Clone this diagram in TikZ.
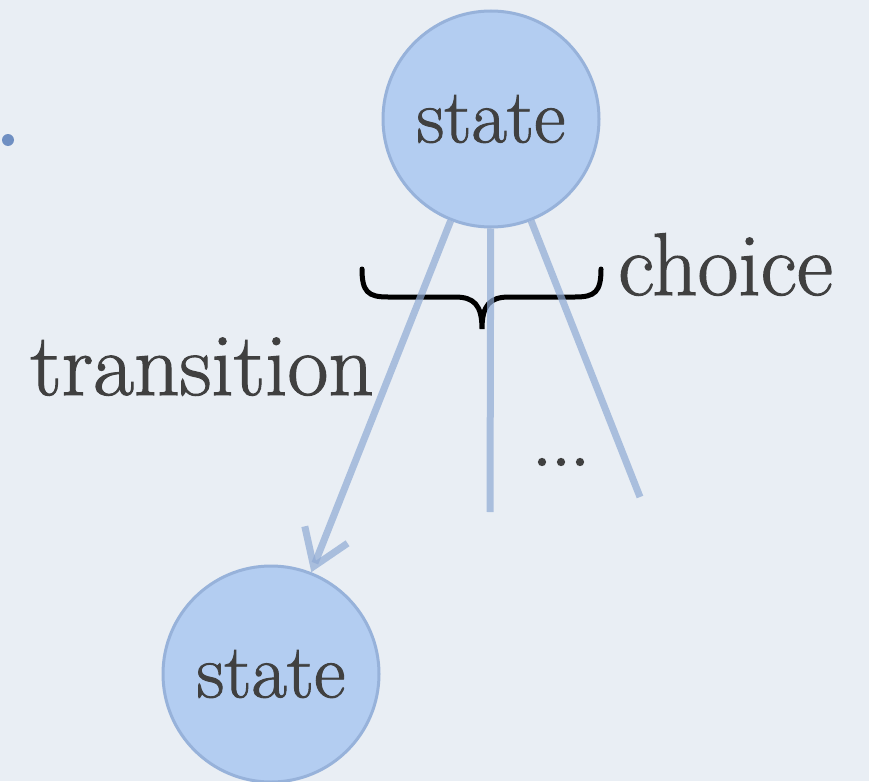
\documentclass[tikz,border=0pt]{standalone}
\usepackage{fontspec}
\usepackage{tikz}
\usetikzlibrary{automata, arrows.meta, positioning}

\newfontfamily\heavyserif{Latin Modern Roman}[FakeBold=1.2]
\newfontfamily\dotserif{Latin Modern Roman}[FakeBold=2.5]

\definecolor{paper}{HTML}{E9EEF4}
\definecolor{statefill}{HTML}{B3CDF1}
\definecolor{statedraw}{HTML}{97B2DA}
\definecolor{edgeblue}{HTML}{8FAAD4}
\definecolor{ink}{HTML}{404040}
\definecolor{dotblue}{HTML}{6F8FC2}

\begin{document}
\begin{tikzpicture}[x=1pt,y=-1pt,
    >={Straight Barb[length=34pt,width=46pt]},
    every state/.style={fill=statefill, draw=statedraw, line width=3pt,
      minimum size=216pt, inner sep=0pt, text=ink,
      font=\heavyserif\fontsize{77}{80}\selectfont},
    edge/.style={draw=edgeblue, draw opacity=0.7, line width=7pt},
    lbl/.style={text=ink, inner sep=0pt, font=\heavyserif\fontsize{89}{94}\selectfont}]

  \fill[paper] (0,0) rectangle (869,781);
  \useasboundingbox (0,0) rectangle (869,781);

  \node[circle, fill=dotblue, inner sep=0pt, minimum size=12pt] (bullet) at (8,140) {};

  \node[state] (s) at (491,119) {state};
  \node[state] (t) at (271,674) {state};

  \coordinate (midend) at (490,512);
  \coordinate (rightend) at (640,497);
  \coordinate (bl) at (362,269);
  \coordinate (br) at (601,269);
  \coordinate (tip) at (482,329);

  % brace under the choices
  \draw[line width=5pt, line cap=round]
    (bl) .. controls (362,292) and (368,297) .. (388,297) -- (455,297)
    .. controls (474,297) and (482,305) .. (tip)
    .. controls (482,305) and (490,297) .. (509,297) -- (575,297)
    .. controls (595,297) and (601,292) .. (br);

  \path[edge]
    (s) edge[->] (t)
    (s) edge (midend)
    (s) edge (rightend);

  \node[lbl, anchor=base west] (choice) at (618,295) {choice};
  \node[lbl, anchor=base west] (transition) at (30,395) {transition};
  \node[lbl, font=\dotserif\fontsize{76}{80}\selectfont] (more) at (561,462) {...};

\end{tikzpicture}
\end{document}
